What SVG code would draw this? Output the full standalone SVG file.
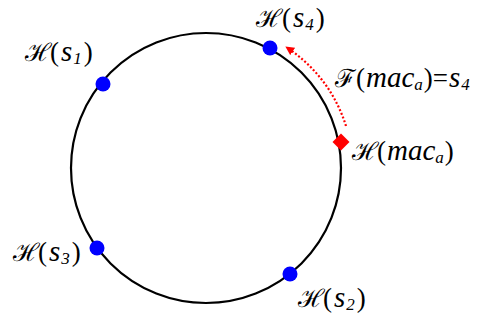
<svg xmlns="http://www.w3.org/2000/svg" width="482" height="320" viewBox="0 0 482 320">
<defs>
<style>
text{font-family:'Liberation Serif','Times New Roman',serif;font-size:27px;fill:#000}
text.h{font-family:'DejaVu Serif',serif;font-size:25px}
.it{font-style:italic;font-size:29px}
.sub{font-style:italic;font-size:17px}
.dot{fill:#0000ff}
</style>
<marker id="ah" viewBox="0 0 10 10" refX="5" refY="5" markerWidth="4" markerHeight="4" orient="auto-start-reverse">
<path d="M0,0 L10,5 L0,10 z" fill="#ff0000"/>
</marker>
</defs>
<rect width="482" height="320" fill="#fff"/>
<g id="ring"><circle cx="206" cy="168" r="135" fill="none" stroke="#000" stroke-width="2.2"/></g>
<g id="connectors">
<path d="M346,126 A145,145 0 0 0 289,49" fill="none" stroke="#ff0000" stroke-width="2.2" stroke-dasharray="2,2" marker-end="url(#ah)"/>
</g>
<g id="s4"><circle class="dot" cx="270" cy="48" r="7.5"/>
<text class="h" x="256" y="27">ℋ</text>
<text x="282" y="27">(<tspan class="it" dx="2">s</tspan><tspan class="sub" dx="1" dy="3">4</tspan><tspan dx="2" dy="-3">)</tspan></text></g>
<g id="s1"><circle class="dot" cx="103" cy="84" r="7.5"/>
<text class="h" x="25" y="61">ℋ</text>
<text x="50" y="61">(<tspan class="it" dx="2">s</tspan><tspan class="sub" dx="1" dy="3">1</tspan><tspan dx="2" dy="-3">)</tspan></text></g>
<g id="s3"><circle class="dot" cx="97" cy="248" r="7.5"/>
<text class="h" x="13" y="261">ℋ</text>
<text x="38" y="261">(<tspan class="it" dx="2">s</tspan><tspan class="sub" dx="1" dy="3">3</tspan><tspan dx="2" dy="-3">)</tspan></text></g>
<g id="s2"><circle class="dot" cx="290" cy="274" r="7.5"/>
<text class="h" x="298" y="307">ℋ</text>
<text x="323" y="307">(<tspan class="it" dx="2">s</tspan><tspan class="sub" dx="1" dy="3">2</tspan><tspan dx="2" dy="-3">)</tspan></text></g>
<g id="mac"><rect x="335" y="136" width="12" height="12" fill="#ff0000" transform="rotate(45 341 142)"/>
<text class="h" x="352" y="160">ℋ</text>
<text x="377" y="160">(<tspan class="it" dx="1">mac</tspan><tspan class="sub" dy="3">a</tspan><tspan dx="1" dy="-3">)</tspan></text></g>
<g id="f">
<text class="h" x="335" y="87">ℱ</text>
<text x="356" y="87">(<tspan class="it" dx="1">mac</tspan><tspan class="sub" dy="3">a</tspan><tspan dx="1" dy="-3">)=</tspan><tspan class="it" dx="1">s</tspan><tspan class="sub" dx="1" dy="3">4</tspan></text></g>
</svg>
